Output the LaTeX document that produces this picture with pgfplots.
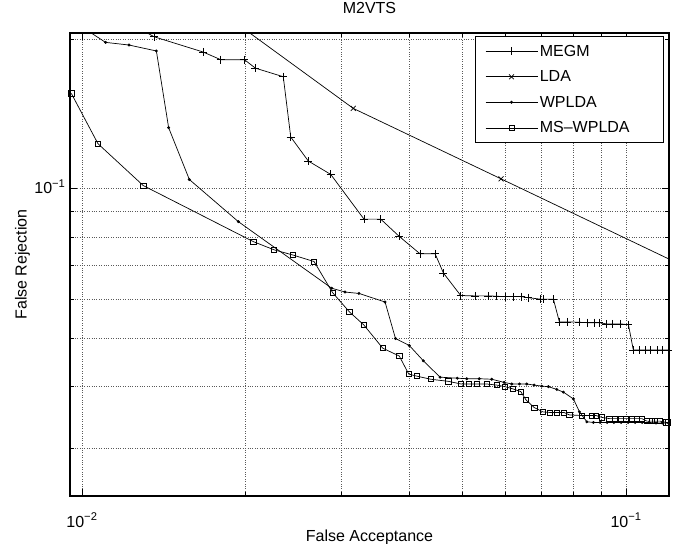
\documentclass[border=0pt]{standalone}
\usepackage{pgfplots}
\pgfplotsset{compat=1.18}
\usepackage{fontspec}
\setmainfont{Liberation Sans}
\begin{document}
\begin{tikzpicture}
\useasboundingbox (0pt,0pt) rectangle (678pt,544pt);
\begin{axis}[
 at={(70pt,48pt)}, anchor=south west,
 scale only axis, width=599pt, height=463pt,
 xmode=log, ymode=log,
 xmin=0.009505, xmax=0.1199, ymin=0.02411, ymax=0.2057,
 xtick={0.01,0.1}, xticklabels={10\textsuperscript{−2},10\textsuperscript{−1}},
 ytick={0.1}, yticklabels={10\textsuperscript{−1}},
 minor xtick={0.02,0.03,0.04,0.05,0.06,0.07,0.08,0.09},
 minor ytick={0.03,0.04,0.05,0.06,0.07,0.08,0.09,0.2},
 grid=both,
 grid style={dotted, black!65, line width=0.7pt},
 axis line style={line width=1.1pt},
 tick style={black, line width=0.7pt},
 major tick length=7pt, minor tick length=4pt,
 tick label style={font=\fontsize{16}{19}\selectfont},
 xticklabel style={anchor=base, yshift=-31pt},
 yticklabel style={anchor=east, xshift=-1pt, yshift=2pt},
 label style={font=\fontsize{16}{19}\selectfont},
 title style={font=\fontsize{16}{19}\selectfont, at={(rel axis cs:0.5,1.0281)}, anchor=base, yshift=0pt},
 xlabel style={at={(rel axis cs:0.5,-0.0972)}, anchor=base},
 ylabel style={at={(rel axis cs:-0.0723,0.5)}, anchor=base},
 title=M2VTS, xlabel=False Acceptance, ylabel=False Rejection,
 legend cell align=left,
 legend style={at={(rel axis cs:0.992,0.994)}, anchor=north east, draw=black, line width=1.1pt,
   font=\fontsize{16}{19}\selectfont, row sep=9pt, inner xsep=10pt, inner ysep=6.5pt},
 legend image code/.code={\draw[mark repeat=2,mark phase=2,#1] plot coordinates {(0pt,0pt)(26pt,0pt)(52pt,0pt)};},
 clip=true,
]
% MEGM
\addplot[black, line width=0.7pt, mark=+, mark size=4pt, mark options={line width=0.7pt}] coordinates {
(0.01175,0.2208) (0.01356,0.2022) (0.01669,0.1884) (0.01799,0.1818) (0.01989,0.1818) (0.02084,0.1748)
(0.02344,0.1680) (0.02419,0.1271) (0.02606,0.1137) (0.02865,0.1069) (0.03298,0.0869) (0.03540,0.0869)
(0.03830,0.0802) (0.04181,0.0740) (0.04457,0.0740) (0.04616,0.0677) (0.04967,0.0610) (0.05278,0.0609)
(0.05583,0.0609) (0.05785,0.0608) (0.05993,0.0607) (0.06206,0.0607) (0.06412,0.0607) (0.06612,0.0604)
(0.06948,0.0600) (0.07046,0.0600) (0.07352,0.0600) (0.07541,0.0540) (0.07800,0.0540) (0.08209,0.0539)
(0.08470,0.0538) (0.08736,0.0538) (0.08931,0.0538) (0.09189,0.0535) (0.09454,0.0535) (0.09750,0.0535)
(0.1010,0.0533) (0.1031,0.0474) (0.1058,0.0474) (0.1084,0.0474) (0.1110,0.0474) (0.1139,0.0474)
(0.1168,0.0474) (0.1196,0.0474)
};
\addlegendentry{MEGM}
% LDA
\addplot[black, line width=0.7pt, mark=x, mark size=3.5pt, mark options={line width=0.7pt}] coordinates {
(0.01648,0.2433) (0.03152,0.1451) (0.05892,0.1047) (0.1489,0.0645)
};
\addlegendentry{LDA}
% WPLDA
\addplot[black, line width=0.7pt, mark=*, mark size=1.1pt] coordinates {
(0.00992,0.2128) (0.01105,0.1970) (0.01220,0.1946) (0.01370,0.1893) (0.01443,0.1327) (0.01575,0.1044)
(0.01938,0.0859) (0.02877,0.0631) (0.03044,0.0620) (0.03229,0.0616) (0.03606,0.0592) (0.03769,0.0500)
(0.03996,0.0484) (0.04240,0.0451) (0.04550,0.0418) (0.04896,0.0416) (0.05096,0.0415) (0.05373,0.0415)
(0.05664,0.0414) (0.05967,0.0408) (0.06165,0.0405) (0.06367,0.0405) (0.06569,0.0405) (0.06776,0.0403)
(0.06999,0.0401) (0.07198,0.0400) (0.07459,0.0395) (0.07670,0.0390) (0.08002,0.0378) (0.08209,0.0356)
(0.08470,0.0340) (0.0871,0.0339) (0.0896,0.0339) (0.0923,0.0339) (0.0950,0.0339) (0.0979,0.0339)
(0.1009,0.0339) (0.1039,0.0339) (0.1070,0.0339) (0.1102,0.0339) (0.1135,0.0338) (0.1165,0.0338)
(0.1196,0.0338)
};
\addlegendentry{WPLDA}
% MS-WPLDA
\addplot[black, line width=0.7pt, mark=square, mark size=2.6pt, mark options={line width=0.7pt}] coordinates {
(0.00956,0.1555) (0.01070,0.1232) (0.01296,0.1015) (0.02065,0.0783) (0.02254,0.0754) (0.02440,0.0736)
(0.02670,0.0714) (0.02889,0.0618) (0.03099,0.0566) (0.03298,0.0532) (0.03571,0.0478) (0.03830,0.0461)
(0.03986,0.0424) (0.04124,0.0420) (0.04375,0.0414) (0.04713,0.0410) (0.04973,0.0405) (0.05145,0.0405)
(0.05315,0.0405) (0.05545,0.0405) (0.05785,0.0403) (0.05993,0.0400) (0.06191,0.0396) (0.06404,0.0391)
(0.06550,0.0376) (0.06784,0.0363) (0.07030,0.0356) (0.07251,0.0355) (0.07459,0.0355) (0.07692,0.0355)
(0.07867,0.0351) (0.08289,0.0350) (0.08647,0.0350) (0.08808,0.0350) (0.09022,0.0347) (0.09318,0.0345)
(0.09545,0.0345) (0.09779,0.0345) (0.1000,0.0345) (0.1024,0.0345) (0.1046,0.0345) (0.1069,0.0345)
(0.1092,0.0341) (0.1115,0.0341) (0.1131,0.0341) (0.1155,0.0341) (0.1185,0.0339) (0.1195,0.0339)
};
\addlegendentry{MS--WPLDA\hspace*{22pt}}
\end{axis}
\end{tikzpicture}
\end{document}
